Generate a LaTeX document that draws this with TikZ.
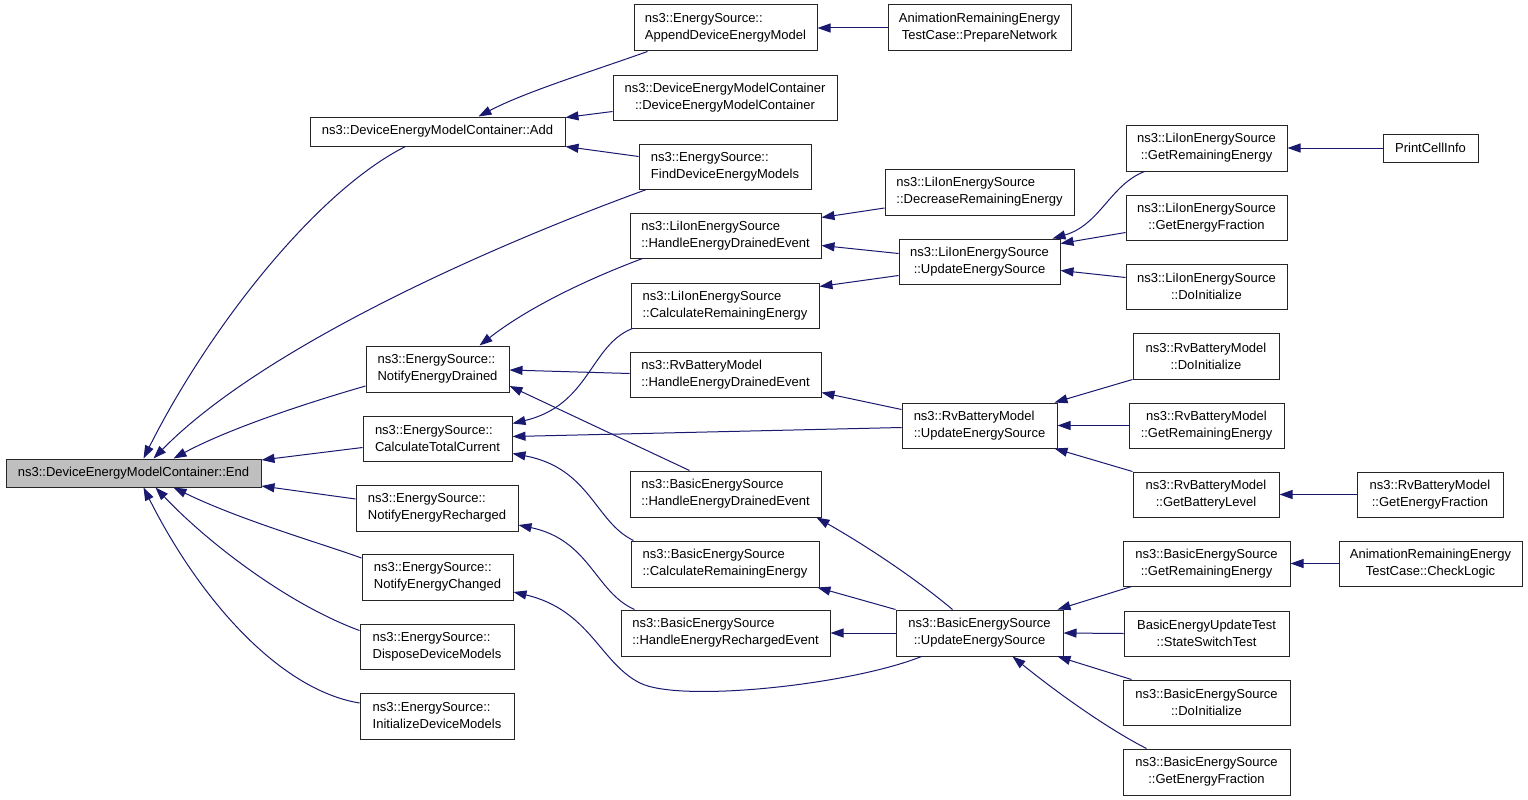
\documentclass[tikz,border=0pt]{standalone}
\usepackage{fontspec}
\setmainfont{Liberation Sans}
\usetikzlibrary{arrows.meta,calc}
\definecolor{edgeblue}{RGB}{25,25,112}
\definecolor{endgray}{RGB}{191,191,191}
\tikzset{
  nbox/.style={draw=black!85, line width=1pt, fill=white, inner sep=2pt, text=black,
    font=\fontsize{13}{17}\selectfont},
  conn/.style={draw=edgeblue, line width=1pt, -{Triangle[length=13pt,width=9pt]}},
}
\begin{document}
\begin{tikzpicture}[x={(1pt,0pt)},y={(0pt,-1pt)}]
\useasboundingbox[fill=white] (0,0) rectangle (1528,800);
% column 1
\node[nbox,fill=endgray,minimum width=255pt,minimum height=28pt] (nEnd) at (133.5,473) {ns3::DeviceEnergyModelContainer::End};
% column 2
\node[nbox,minimum width=255pt,minimum height=29pt] (nAdd) at (437.5,131.5) {ns3::DeviceEnergyModelContainer::Add};
\node[nbox,align=left,minimum width=143pt,minimum height=46pt] (nNED) at (437.5,369) {ns3::EnergySource::\\NotifyEnergyDrained};
\node[nbox,align=left,minimum width=149pt,minimum height=45pt] (nCTC) at (437.5,438.5) {ns3::EnergySource::\\CalculateTotalCurrent};
\node[nbox,align=left,minimum width=162pt,minimum height=46pt] (nNER) at (437,508) {ns3::EnergySource::\\NotifyEnergyRecharged};
\node[nbox,align=left,minimum width=151pt,minimum height=46pt] (nNEC) at (437.5,577) {ns3::EnergySource::\\NotifyEnergyChanged};
\node[nbox,align=left,minimum width=154pt,minimum height=45pt] (nDDM) at (437,646.5) {ns3::EnergySource::\\DisposeDeviceModels};
\node[nbox,align=left,minimum width=154pt,minimum height=46pt] (nIDM) at (437,716) {ns3::EnergySource::\\InitializeDeviceModels};
% column 3
\node[nbox,align=left,minimum width=183pt,minimum height=46pt] (nAppend) at (725.5,28) {ns3::EnergySource::\\AppendDeviceEnergyModel};
\node[nbox,align=center,minimum width=224pt,minimum height=45pt] (nDEMC) at (725,97.5) {ns3::DeviceEnergyModelContainer\\::DeviceEnergyModelContainer};
\node[nbox,align=left,minimum width=172pt,minimum height=45pt] (nFind) at (725,166.5) {ns3::EnergySource::\\FindDeviceEnergyModels};
\node[nbox,align=left,minimum width=191pt,minimum height=45pt] (nLHEDE) at (725.5,235.5) {ns3::LiIonEnergySource\\::HandleEnergyDrainedEvent};
\node[nbox,align=left,minimum width=188pt,minimum height=45pt] (nLCRE) at (725,305.5) {ns3::LiIonEnergySource\\::CalculateRemainingEnergy};
\node[nbox,align=left,minimum width=191pt,minimum height=45pt] (nRHEDE) at (725.5,374.5) {ns3::RvBatteryModel\\::HandleEnergyDrainedEvent};
\node[nbox,align=left,minimum width=191pt,minimum height=46pt] (nBHEDE) at (725.5,494) {ns3::BasicEnergySource\\::HandleEnergyDrainedEvent};
\node[nbox,align=left,minimum width=188pt,minimum height=46pt] (nBCRE) at (725,564) {ns3::BasicEnergySource\\::CalculateRemainingEnergy};
\node[nbox,align=left,minimum width=209pt,minimum height=46pt] (nBHERE) at (725.5,633) {ns3::BasicEnergySource\\::HandleEnergyRechargedEvent};
% column 4
\node[nbox,align=center,minimum width=183pt,minimum height=46pt] (nPrep) at (979.5,28) {AnimationRemainingEnergy\\TestCase::PrepareNetwork};
\node[nbox,align=left,minimum width=189pt,minimum height=46pt] (nLDec) at (979.5,192) {ns3::LiIonEnergySource\\::DecreaseRemainingEnergy};
\node[nbox,align=center,minimum width=161pt,minimum height=45pt] (nLUES) at (979.5,261.5) {ns3::LiIonEnergySource\\::UpdateEnergySource};
\node[nbox,align=left,minimum width=155pt,minimum height=45pt] (nRUES) at (979.5,425.5) {ns3::RvBatteryModel\\::UpdateEnergySource};
\node[nbox,align=center,minimum width=167pt,minimum height=46pt] (nBUES) at (979.5,633) {ns3::BasicEnergySource\\::UpdateEnergySource};
% column 5
\node[nbox,align=center,minimum width=161pt,minimum height=46pt] (nLGRE) at (1206.5,148) {ns3::LiIonEnergySource\\::GetRemainingEnergy};
\node[nbox,align=center,minimum width=161pt,minimum height=45pt] (nLGEF) at (1206.5,217.5) {ns3::LiIonEnergySource\\::GetEnergyFraction};
\node[nbox,align=center,minimum width=161pt,minimum height=45pt] (nLDoI) at (1206.5,286.5) {ns3::LiIonEnergySource\\::DoInitialize};
\node[nbox,align=center,minimum width=146pt,minimum height=46pt] (nRDoI) at (1206,356) {ns3::RvBatteryModel\\::DoInitialize};
\node[nbox,align=center,minimum width=155pt,minimum height=45pt] (nRGRE) at (1206.5,425.5) {ns3::RvBatteryModel\\::GetRemainingEnergy};
\node[nbox,align=center,minimum width=146pt,minimum height=45pt] (nRGBL) at (1206,494.5) {ns3::RvBatteryModel\\::GetBatteryLevel};
\node[nbox,align=center,minimum width=167pt,minimum height=45pt] (nBGRE) at (1206.5,563.5) {ns3::BasicEnergySource\\::GetRemainingEnergy};
\node[nbox,align=center,minimum width=165pt,minimum height=45pt] (nSST) at (1206.5,633.5) {BasicEnergyUpdateTest\\::StateSwitchTest};
\node[nbox,align=center,minimum width=167pt,minimum height=45pt] (nBDoI) at (1206.5,702.5) {ns3::BasicEnergySource\\::DoInitialize};
\node[nbox,align=center,minimum width=167pt,minimum height=46pt] (nBGEF) at (1206.5,772) {ns3::BasicEnergySource\\::GetEnergyFraction};
% column 6
\node[nbox,minimum width=95pt,minimum height=28pt] (nPCI) at (1430.5,148) {PrintCellInfo};
\node[nbox,align=center,minimum width=146pt,minimum height=45pt] (nRGEF) at (1430,494.5) {ns3::RvBatteryModel\\::GetEnergyFraction};
\node[nbox,align=center,minimum width=183pt,minimum height=45pt] (nCL) at (1430.5,563.5) {AnimationRemainingEnergy\\TestCase::CheckLogic};

% edges into End
\draw[conn] ($(nAdd.south)+(-32,0)$) .. controls (315,192) and (208,330) .. ($(nEnd.north)+(10,0)$);
\draw[conn] ($(nFind.south west)+(8,0)$) .. controls (480,250) and (260,350) .. ($(nEnd.north)+(20,0)$);
\draw[conn] ($(nNED.west)+(0,17)$) .. controls (310,402) and (230,428) .. ($(nEnd.north)+(40,0)$);
\draw[conn] ($(nCTC.west)+(0,9)$) -- ($(nEnd.east)+(0,-13)$);
\draw[conn] ($(nNER.west)+(0,-9)$) -- ($(nEnd.east)+(0,13)$);
\draw[conn] ($(nNEC.west)+(0,-19)$) .. controls (320,543) and (240,520) .. ($(nEnd.south)+(40,0)$);
\draw[conn] ($(nDDM.west)+(0,-16)$) .. controls (290,605) and (210,545) .. ($(nEnd.south)+(22,0)$);
\draw[conn] ($(nIDM.west)+(0,-13)$) .. controls (280,690) and (200,600) .. ($(nEnd.south)+(10,0)$);
% edges into Add
\draw[conn] ($(nAppend.south west)+(14,0)$) .. controls (590,72) and (525,92) .. ($(nAdd.north)+(41,0)$);
\draw[conn] ($(nDEMC.west)+(0,14)$) -- ($(nAdd.east)+(0,-14)$);
\draw[conn] ($(nFind.west)+(0,-10)$) -- ($(nAdd.east)+(0,15)$);
% edges into NotifyEnergyDrained
\draw[conn] ($(nLHEDE.south west)+(13,0)$) .. controls (580,282) and (525,310) .. ($(nNED.north)+(42,0)$);
\draw[conn] ($(nRHEDE.west)+(0,-1)$) -- ($(nNED.east)+(0,1)$);
\draw[conn] ($(nBHEDE.north west)+(60,0)$) -- ($(nNED.east)+(0,17)$);
% edges into CalculateTotalCurrent
\draw[conn] ($(nLCRE.south west)+(2,0)$) .. controls (590,345) and (590,405) .. ($(nCTC.east)+(0,-15)$);
\draw[conn] ($(nRUES.west)+(0,2)$) -- ($(nCTC.east)+(0,-2)$);
\draw[conn] ($(nBCRE.north west)+(3,0)$) .. controls (595,522) and (590,468) .. ($(nCTC.east)+(0,15)$);
% NotifyEnergyRecharged, NotifyEnergyChanged
\draw[conn] ($(nBHERE.north west)+(14,0)$) .. controls (595,592) and (590,540) .. ($(nNER.east)+(0,17)$);
\draw[conn] ($(nBUES.south west)+(26,0)$) .. controls (850,685) and (680,703) .. (640,683) .. controls (600,663) and (590,610) .. ($(nNEC.east)+(0,15)$);
% LiIon
\draw[conn] ($(nLDec.west)+(0,16)$) -- ($(nLHEDE.east)+(0,-18)$);
\draw[conn] ($(nLUES.west)+(0,-8)$) -- ($(nLHEDE.east)+(0,10)$);
\draw[conn] ($(nLUES.west)+(0,14)$) -- ($(nLCRE.east)+(0,-19)$);
\draw[conn] ($(nLGRE.south west)+(19,0)$) .. controls (1110,185) and (1100,225) .. ($(nLUES.north east)+(-8,0)$);
\draw[conn] ($(nLGEF.west)+(0,15)$) -- ($(nLUES.east)+(0,-18)$);
\draw[conn] ($(nLDoI.west)+(0,-9)$) -- ($(nLUES.east)+(0,9)$);
\draw[conn] (nPCI.west) -- (nLGRE.east);
\draw[conn] (nPrep.west) -- (nAppend.east);
% Rv
\draw[conn] ($(nRUES.west)+(0,-16)$) -- ($(nRHEDE.east)+(0,18)$);
\draw[conn] (nRDoI.south west) -- ($(nRUES.north east)+(-3,0)$);
\draw[conn] (nRGRE.west) -- (nRUES.east);
\draw[conn] (nRGBL.north west) -- ($(nRUES.south east)+(-3,0)$);
\draw[conn] (nRGEF.west) -- (nRGBL.east);
% Basic
\draw[conn] ($(nBUES.north west)+(57,0)$) .. controls (915,578) and (865,545) .. ($(nBHEDE.south east)+(-5,0)$);
\draw[conn] (nBUES.north west) -- ($(nBCRE.south east)+(-2,0)$);
\draw[conn] (nBUES.west) -- (nBHERE.east);
\draw[conn] ($(nBGRE.south west)+(9,0)$) -- ($(nBUES.north east)+(-6,0)$);
\draw[conn] (nSST.west) -- (nBUES.east);
\draw[conn] ($(nBDoI.north west)+(9,0)$) -- ($(nBUES.south east)+(-6,0)$);
\draw[conn] ($(nBGEF.north west)+(24,0)$) .. controls (1110,730) and (1060,695) .. ($(nBUES.south)+(33,0)$);
\draw[conn] (nCL.west) -- (nBGRE.east);
\end{tikzpicture}
\end{document}
